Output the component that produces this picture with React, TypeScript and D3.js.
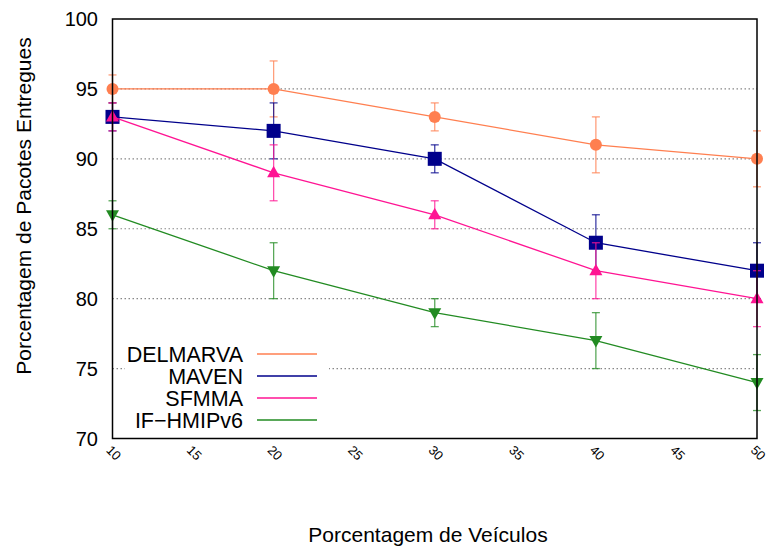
import React from "react";
import * as d3 from "d3";

const xValues = [10, 20, 30, 40, 50];
const seriesNames = ["DELMARVA", "MAVEN", "SFMMA", "IF\u2212HMIPv6"];
const delmarva = [95, 95, 93, 91, 90];
const delmarvaErr = [1, 2, 1, 2, 2];
const maven = [93, 92, 90, 84, 82];
const mavenErr = [1, 2, 1, 2, 2];
const sfmma = [93, 89, 86, 82, 80];
const sfmmaErr = [1, 2, 1, 2, 2];
const ifhmip = [86, 82, 79, 77, 74];
const ifhmipErr = [1, 2, 1, 2, 2];
const yTicks = [70, 75, 80, 85, 90, 95, 100];
const xTicks = [10, 15, 20, 25, 30, 35, 40, 45, 50];
const gridTicks = [75, 80, 85, 90, 95];

const colors = ["#ff7f50", "#00008b", "#ff1493", "#228b22"];
const markers = ["circle", "square", "triangle", "triangleDown"];

const W = 775, H = 548;
const left = 112.5, right = 757, top = 19, bottom = 438.5;

export default function App() {
  const x = d3.scaleLinear().domain([10, 50]).range([left, right]);
  const y = d3.scaleLinear().domain([70, 100]).range([bottom, top]);
  const series = [
    { v: delmarva, e: delmarvaErr },
    { v: maven, e: mavenErr },
    { v: sfmma, e: sfmmaErr },
    { v: ifhmip, e: ifhmipErr },
  ];
  const line = d3.line<number>().x((_, i) => x(xValues[i])).y((d) => y(d));
  const font = "Liberation Sans, Arial, sans-serif";

  const marker = (kind: string, cx: number, cy: number, c: string, key: string) => {
    if (kind === "circle") return <circle key={key} cx={cx} cy={cy} r={6} fill={c} />;
    if (kind === "square") return <rect key={key} x={cx - 7} y={cy - 7} width={14} height={14} fill={c} />;
    if (kind === "triangle")
      return <path key={key} d={`M${cx},${cy - 7}L${cx + 6.5},${cy + 4.5}L${cx - 6.5},${cy + 4.5}Z`} fill={c} />;
    return <path key={key} d={`M${cx},${cy + 7}L${cx + 6.5},${cy - 4.5}L${cx - 6.5},${cy - 4.5}Z`} fill={c} />;
  };

  return (
    <svg width={W} height={H} style={{ display: "block", position: "absolute", left: 0, top: 0 }} fontFamily={font}>
      <rect width={W} height={H} fill="#fff" />
      {gridTicks.map((t) => (
        <line key={t} x1={left} x2={right} y1={y(t)} y2={y(t)} stroke="#888" strokeWidth={1.2} strokeDasharray="1.5,2.5" />
      ))}
      {/* legend background */}
      <rect x={125} y={342} width={204} height={90} fill="#fff" />
      {series.map((s, si) => (
        <g key={si}>
          {s.v.map((v, i) => {
            const cx = x(xValues[i]);
            return (
              <g key={i} stroke={colors[si]} strokeOpacity={0.75} strokeWidth={1.3}>
                <line x1={cx} x2={cx} y1={y(v - s.e[i])} y2={y(v + s.e[i])} />
                <line x1={cx - 4} x2={cx + 4} y1={y(v - s.e[i])} y2={y(v - s.e[i])} />
                <line x1={cx - 4} x2={cx + 4} y1={y(v + s.e[i])} y2={y(v + s.e[i])} />
              </g>
            );
          })}
          <path d={line(s.v) || ""} fill="none" stroke={colors[si]} strokeWidth={1.3} />
          {s.v.map((v, i) => marker(markers[si], x(xValues[i]), y(v), colors[si], `m${i}`))}
        </g>
      ))}
      <rect x={left} y={top} width={right - left} height={bottom - top} fill="none" stroke="#000" strokeWidth={1.5} />
      {yTicks.map((t) => (
        <text key={t} x={98} y={y(t)} dy="0.35em" textAnchor="end" fontSize={20} fill="#000">{t}</text>
      ))}
      {xTicks.map((t) => (
        <text key={t} transform={`translate(${x(t) - 7},${451}) rotate(45)`} fontSize={13} fill="#000">{t}</text>
      ))}
      {seriesNames.map((n, i) => (
        <g key={n}>
          <text x={243} y={354 + i * 22} dy="0.35em" textAnchor="end" fontSize={21.5} fill="#000">{n}</text>
          <line x1={257} x2={317} y1={354 + i * 22} y2={354 + i * 22} stroke={colors[i]} strokeWidth={1.3} />
        </g>
      ))}
      <text transform={`translate(31,${206}) rotate(-90)`} textAnchor="middle" fontSize={21} fill="#000">
        Porcentagem de Pacotes Entregues
      </text>
      <text x={428} y={542} textAnchor="middle" fontSize={21} fill="#000">Porcentagem de Veículos</text>
    </svg>
  );
}
